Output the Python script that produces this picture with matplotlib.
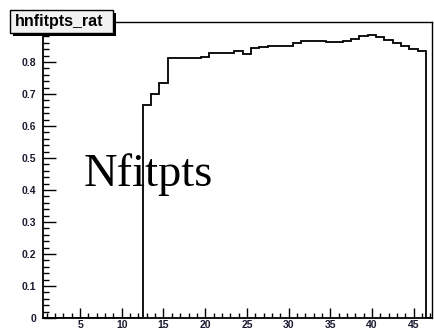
import numpy as np
import matplotlib
matplotlib.use("Agg")
import matplotlib.pyplot as plt
from matplotlib.ticker import MultipleLocator, FuncFormatter
from matplotlib.patches import Rectangle

# ratio per number of fit points, bins centred on integers 1..47
bin_centres = list(range(1, 48))
ratio = [0.0] * 12 + [
    0.667, 0.700, 0.733, 0.813, 0.813, 0.812, 0.812, 0.817, 0.828, 0.828,
    0.827, 0.834, 0.824, 0.845, 0.847, 0.850, 0.850, 0.850, 0.858, 0.865,
    0.866, 0.866, 0.862, 0.862, 0.865, 0.872, 0.880, 0.883, 0.879, 0.869,
    0.860, 0.849, 0.842, 0.833,
] + [0.0]
x_ticks = [5, 10, 15, 20, 25, 30, 35, 40, 45]
hist_name = "hnfitpts_rat"
x_label = "Nfitpts"

edges = np.array(bin_centres + [bin_centres[-1] + 1]) - 0.5


def y_fmt(v, pos):
    if abs(v) < 1e-9:
        return "0"
    if v > 0.85:  # sits under the name box
        return ""
    return f"{v:.1f}"


fig = plt.figure(figsize=(4.34, 3.30), dpi=100)
ax = fig.add_axes([43 / 434, 12 / 330, 389 / 434, 296 / 330])

ax.stairs(ratio, edges, color="black", lw=1.3, baseline=0)

ax.set_xlim(0.55, 47.2)
ax.set_ylim(0, 0.925)

ax.xaxis.set_major_locator(MultipleLocator(5))
ax.xaxis.set_minor_locator(MultipleLocator(1))
ax.yaxis.set_major_locator(MultipleLocator(0.1))
ax.yaxis.set_minor_locator(MultipleLocator(0.02))
ax.yaxis.set_major_formatter(FuncFormatter(y_fmt))

tick_font = {"family": "Liberation Sans", "weight": "bold", "size": 7.5}
ax.tick_params(axis="both", which="both", direction="in", colors="black",
               labelcolor="#1a1a30", width=1.0, top=False, right=False)
ax.tick_params(axis="x", which="major", length=7, pad=1.5)
ax.tick_params(axis="x", which="minor", length=3.5)
ax.tick_params(axis="y", which="major", length=9, pad=5)
ax.tick_params(axis="y", which="minor", length=4.5)
ax.set_xticks(x_ticks)
ax.set_xticklabels([str(t) for t in x_ticks], fontdict=tick_font)
for lbl in ax.get_yticklabels():
    lbl.set_fontproperties(matplotlib.font_manager.FontProperties(**tick_font))

for side in ["left", "bottom"]:
    ax.spines[side].set_linewidth(1.3)
for side in ["top", "right"]:
    ax.spines[side].set_linewidth(1.0)

# axis title drawn large in the middle of the frame
fig.text(84 / 434, 1 - 186 / 330, x_label, family="Liberation Serif",
         fontsize=33.5, color="black", ha="left", va="baseline")

# histogram name box with drop shadow
fig.patches.append(Rectangle((13 / 434, 1 - 36 / 330), 103 / 434, 23 / 330,
                             transform=fig.transFigure, facecolor="black",
                             edgecolor="none", zorder=5))
fig.patches.append(Rectangle((10 / 434, 1 - 33 / 330), 103 / 434, 23 / 330,
                             transform=fig.transFigure, facecolor="#f2f2f2",
                             edgecolor="black", lw=1.0, zorder=6))
fig.text(59 / 434, 1 - 21.5 / 330, hist_name, family="Liberation Sans",
         weight="bold", fontsize=11.5, color="black", ha="center", va="center",
         zorder=7)

fig.savefig("out.png", dpi=100)
